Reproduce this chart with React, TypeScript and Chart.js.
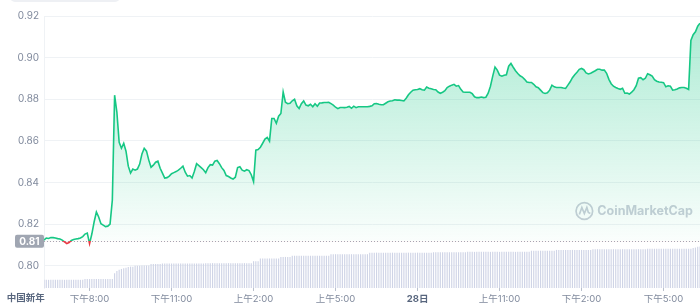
import React, { useEffect, useRef } from "react";
import { Chart, registerables } from "chart.js";

Chart.register(...registerables);

// ---------- data ----------
const START_MIN = 18 * 60 + 20; // 27th, 18:20 (minutes from midnight of the 27th)
const STEP_MIN = 5;
const SPAN_MIN = 24 * 60;
const BASE_PRICE = 0.8119;
const BASE_LABEL = "0.81";
const DAY_LABEL = "中国新年";
const DAY_LABEL_TIME = 17 * 60 + 40;

const prices = [
  0.8124, 0.8134, 0.8132, 0.8136, 0.8136, 0.8134, 0.8131, 0.8129, 0.8124, 0.8115, 0.8107, 0.8112,
  0.8122, 0.8127, 0.8129, 0.8131, 0.8134, 0.8141, 0.8153, 0.8158, 0.8107, 0.8153, 0.8211, 0.8259,
  0.8235, 0.8203, 0.8196, 0.8189, 0.8191, 0.8201, 0.8316, 0.882, 0.8738, 0.8594, 0.8565, 0.8589,
  0.8551, 0.8479, 0.8446, 0.8465, 0.846, 0.8465, 0.8489, 0.8537, 0.8565, 0.8551, 0.8508, 0.8474,
  0.8484, 0.8498, 0.8503, 0.8469, 0.8446, 0.8422, 0.8424, 0.8431, 0.8443, 0.8448, 0.8453, 0.846,
  0.8469, 0.8479, 0.845, 0.8431, 0.8434, 0.8422, 0.8453, 0.8491, 0.8482, 0.8472, 0.8462, 0.8448,
  0.8472, 0.8486, 0.8484, 0.8503, 0.8506, 0.8491, 0.8472, 0.8458, 0.8434, 0.8429, 0.8422, 0.8417,
  0.8426, 0.8472, 0.8476, 0.846, 0.8455, 0.8462, 0.8458, 0.8438, 0.8405, 0.8556, 0.8559, 0.857,
  0.8589, 0.8609, 0.8617, 0.8599, 0.8708, 0.8708, 0.8685, 0.8719, 0.8732, 0.8835, 0.8786, 0.8779,
  0.8781, 0.8793, 0.88, 0.8769, 0.8756, 0.8779, 0.8792, 0.8772, 0.8769, 0.8776, 0.8764, 0.8779,
  0.8767, 0.8782, 0.8783, 0.8785, 0.8785, 0.8786, 0.8779, 0.8772, 0.8762, 0.8755, 0.8761, 0.8761,
  0.876, 0.8762, 0.8766, 0.8757, 0.8767, 0.876, 0.8764, 0.8764, 0.8764, 0.8764, 0.8764, 0.8766,
  0.8769, 0.8779, 0.878, 0.8776, 0.8774, 0.8774, 0.8781, 0.8788, 0.8792, 0.8793, 0.8798, 0.8796,
  0.8796, 0.8794, 0.8792, 0.8805, 0.8822, 0.8834, 0.8844, 0.8846, 0.8847, 0.8851, 0.8846, 0.8844,
  0.8859, 0.8853, 0.8851, 0.8847, 0.8846, 0.8835, 0.8829, 0.8834, 0.8841, 0.8856, 0.8863, 0.8868,
  0.8872, 0.8863, 0.8866, 0.8848, 0.8835, 0.8834, 0.8834, 0.8834, 0.8827, 0.8812, 0.8808, 0.8808,
  0.8811, 0.8808, 0.881, 0.8829, 0.8863, 0.8911, 0.8955, 0.894, 0.8916, 0.8911, 0.8916, 0.8918,
  0.8959, 0.8972, 0.8954, 0.8937, 0.8924, 0.8913, 0.8907, 0.8896, 0.8883, 0.8881, 0.8881, 0.8872,
  0.886, 0.8856, 0.8844, 0.8832, 0.8828, 0.8831, 0.8844, 0.8868, 0.886, 0.8857, 0.8857, 0.8857,
  0.8854, 0.8852, 0.8868, 0.8884, 0.8904, 0.8918, 0.893, 0.8944, 0.8948, 0.8942, 0.8927, 0.8922,
  0.8925, 0.8931, 0.8937, 0.8944, 0.8944, 0.894, 0.894, 0.8925, 0.8896, 0.8875, 0.8863, 0.8857,
  0.8852, 0.8848, 0.8853, 0.8829, 0.883, 0.8825, 0.8834, 0.8846, 0.8865, 0.8901, 0.8904, 0.8894,
  0.8901, 0.8923, 0.8918, 0.8911, 0.8894, 0.8887, 0.8883, 0.8882, 0.888, 0.886, 0.8865, 0.8863,
  0.8844, 0.8846, 0.885, 0.8855, 0.8857, 0.8857, 0.8853, 0.8847, 0.9083, 0.911, 0.9124, 0.9151, 0.9165,
];

// volume (millions)
const volumes = [
  21, 21, 21, 21, 21, 21, 21, 21, 21, 21, 21, 21,
  21, 21, 21, 21, 21, 21, 23, 23, 23, 23, 23, 23,
  23, 23, 23, 23, 23, 23, 23, 38, 44, 47, 49, 51,
  52, 54, 55, 55, 57, 57, 57, 58, 58, 58, 58, 62,
  62, 62, 62, 62, 63, 63, 63, 63, 63, 63, 63, 63,
  63, 63, 63, 63, 63, 63, 63, 63, 63, 63, 63, 64,
  64, 64, 64, 64, 64, 64, 64, 64, 64, 64, 64, 64,
  64, 64, 64, 64, 64, 64, 64, 64, 69, 69, 69, 76,
  76, 76, 76, 76, 76, 76, 76, 76, 80, 80, 80, 80,
  80, 83, 83, 83, 83, 83, 83, 83, 83, 83, 83, 83,
  83, 83, 83, 83, 83, 83, 87, 87, 87, 87, 87, 87,
  87, 87, 87, 87, 87, 87, 87, 87, 87, 87, 87, 91,
  91, 91, 91, 91, 91, 91, 91, 91, 91, 91, 91, 91,
  91, 91, 91, 91, 91, 91, 91, 91, 91, 91, 91, 91,
  91, 91, 91, 92, 92, 92, 92, 92, 92, 92, 92, 92,
  92, 92, 92, 92, 92, 92, 93, 93, 93, 93, 93, 93,
  93, 93, 93, 93, 93, 93, 93, 93, 93, 93, 93, 93,
  93, 93, 93, 93, 93, 93, 93, 93, 93, 93, 96, 96,
  96, 96, 96, 96, 96, 96, 96, 96, 96, 98, 98, 98,
  98, 98, 98, 98, 98, 98, 98, 98, 98, 98, 98, 98,
  98, 100, 100, 100, 100, 100, 100, 100, 100, 100, 100, 100,
  100, 100, 100, 100, 100, 100, 100, 100, 100, 100, 100, 100,
  100, 101, 101, 101, 101, 101, 101, 101, 101, 101, 101, 101,
  101, 101, 101, 101, 101, 101, 101, 101, 101, 103, 104, 106, 107,
];

const tickTimes = [1200, 1380, 1560, 1740, 1920, 2100, 2280, 2460];
const tickLabels = ["下午8:00", "下午11:00", "上午2:00", "上午5:00", "28日", "上午11:00", "下午2:00", "下午5:00"];
const boldTickLabels = ["28日"];
const yTicks = [0.8, 0.82, 0.84, 0.86, 0.88, 0.9, 0.92];

const Y_MIN = 0.7894;
const Y_MAX = 0.92;
const VOL_MAX = 700;

// ---------- style ----------
const FONT = "Inter, 'Noto Sans CJK SC', sans-serif";
const GREEN = "#16c784";
const RED = "#ea3943";
const AXIS_GRAY = "#808a9d";
const DARK_GRAY = "#58667e";
const X_TICK_LEN = 3;
const X_TICK_PAD = 2;

const times = prices.map((_, i) => START_MIN + i * STEP_MIN);

const overlayPlugin = {
  id: "overlay",
  beforeDatasetsDraw(chart: any) {
    const { ctx, chartArea, scales } = chart;
    const yb = Math.round(scales.y.getPixelForValue(BASE_PRICE)) + 0.5;
    ctx.save();
    // dotted baseline
    ctx.strokeStyle = "#a3a9b5";
    ctx.lineWidth = 1;
    ctx.setLineDash([1, 2]);
    ctx.beginPath();
    ctx.moveTo(chartArea.left, yb);
    ctx.lineTo(chartArea.right, yb);
    ctx.stroke();
    ctx.setLineDash([]);

    // watermark
    const wmColor = "#c9ced8";
    const tx = chartArea.right - 7;
    const ty = chartArea.bottom - 77;
    ctx.font = `bold 12.5px ${FONT}`;
    ctx.fillStyle = wmColor;
    ctx.textAlign = "right";
    ctx.textBaseline = "middle";
    ctx.fillText("CoinMarketCap", tx, ty);
    const tw = ctx.measureText("CoinMarketCap").width;
    const cx = tx - tw - 13;
    ctx.strokeStyle = wmColor;
    ctx.lineWidth = 1.7;
    ctx.beginPath();
    ctx.arc(cx, ty, 8.3, 0, Math.PI * 2);
    ctx.stroke();
    ctx.beginPath();
    ctx.moveTo(cx - 5, ty + 3.5);
    ctx.lineTo(cx - 2.5, ty - 3.5);
    ctx.lineTo(cx, ty + 2.5);
    ctx.lineTo(cx + 2.5, ty - 3.5);
    ctx.lineTo(cx + 4, ty + 1.5);
    ctx.lineTo(cx + 6, ty + 2.5);
    ctx.stroke();
    ctx.restore();
  },
  afterDraw(chart: any) {
    const { ctx, chartArea, scales } = chart;
    ctx.save();
    // baseline value box
    const yb = scales.y.getPixelForValue(BASE_PRICE);
    const bw = 29;
    const bh = 13;
    const bx = chartArea.left - bw;
    ctx.fillStyle = "#a0a6b2";
    ctx.beginPath();
    (ctx as any).roundRect(bx, yb - bh / 2, bw, bh, 2);
    ctx.fill();
    ctx.fillStyle = "#ffffff";
    ctx.font = `bold 10px ${FONT}`;
    ctx.textAlign = "center";
    ctx.textBaseline = "middle";
    ctx.fillText(BASE_LABEL, bx + bw / 2, yb + 0.5);

    // day label left of first tick
    const dx = scales.x.getPixelForValue(DAY_LABEL_TIME);
    ctx.fillStyle = DARK_GRAY;
    ctx.font = `bold 9.5px ${FONT}`;
    ctx.textAlign = "center";
    ctx.textBaseline = "top";
    ctx.fillText(DAY_LABEL, dx, scales.x.top + X_TICK_LEN + X_TICK_PAD);

    // cropped button at top-left
    ctx.fillStyle = "#eef0f4";
    ctx.beginPath();
    (ctx as any).roundRect(10, -12, 110, 14, 5);
    ctx.fill();
    ctx.restore();
  },
};

export default function App() {
  const ref = useRef<HTMLCanvasElement | null>(null);

  useEffect(() => {
    if (!ref.current) return;
    const chart = new Chart(ref.current, {
      type: "line",
      data: {
        datasets: [
          {
            type: "line",
            data: prices.map((p, i) => ({ x: times[i], y: p })),
            yAxisID: "y",
            borderWidth: 1.6,
            pointRadius: 0,
            tension: 0,
            order: 0,
            fill: { value: BASE_PRICE } as any,
            borderColor: (c: any) => {
              const { chart: ch } = c;
              const { chartArea, scales } = ch;
              if (!chartArea) return GREEN;
              const yb = scales.y.getPixelForValue(BASE_PRICE);
              const g = ch.ctx.createLinearGradient(0, chartArea.top, 0, chartArea.bottom);
              const s = Math.min(1, Math.max(0, (yb - chartArea.top) / (chartArea.bottom - chartArea.top)));
              g.addColorStop(0, GREEN);
              g.addColorStop(s, GREEN);
              g.addColorStop(s, RED);
              g.addColorStop(1, RED);
              return g;
            },
            backgroundColor: (c: any) => {
              const { chart: ch } = c;
              const { chartArea, scales } = ch;
              if (!chartArea) return "rgba(22,199,132,0.2)";
              const yb = scales.y.getPixelForValue(BASE_PRICE);
              const g = ch.ctx.createLinearGradient(0, chartArea.top, 0, chartArea.bottom);
              const s = Math.min(1, Math.max(0, (yb - chartArea.top) / (chartArea.bottom - chartArea.top)));
              g.addColorStop(0, "rgba(22,199,132,0.36)");
              g.addColorStop(s, "rgba(22,199,132,0.02)");
              g.addColorStop(s, "rgba(234,57,67,0.15)");
              g.addColorStop(1, "rgba(234,57,67,0.05)");
              return g;
            },
          } as any,
          {
            type: "bar",
            data: volumes.map((v, i) => ({ x: times[i], y: v })),
            yAxisID: "y2",
            backgroundColor: "#cfd4e6",
            barPercentage: 0.5,
            categoryPercentage: 1,
            order: 1,
          } as any,
        ],
      },
      options: {
        animation: false,
        responsive: false,
        events: [],
        layout: { padding: { top: 16, left: 0, right: 0, bottom: 0 } },
        plugins: { legend: { display: false }, tooltip: { enabled: false } },
        scales: {
          x: {
            type: "linear",
            min: START_MIN,
            max: START_MIN + SPAN_MIN,
            offset: false,
            afterBuildTicks: (s: any) => {
              s.ticks = tickTimes.map((v) => ({ value: v }));
            },
            afterFit: (s: any) => {
              s.height = 15;
            },
            grid: {
              offset: false,
              drawOnChartArea: false,
              drawTicks: true,
              tickLength: X_TICK_LEN,
              color: "#b9c0cc",
            },
            border: { display: false },
            ticks: {
              autoSkip: false,
              maxRotation: 0,
              padding: X_TICK_PAD,
              callback: (_v: any, i: number) => tickLabels[i],
              color: (c: any) => (boldTickLabels.includes(tickLabels[c.index]) ? DARK_GRAY : AXIS_GRAY),
              font: (c: any) => ({
                family: FONT,
                size: 9.5,
                weight: boldTickLabels.includes(tickLabels[c.index]) ? "bold" : "normal",
              }),
            },
          },
          y: {
            type: "linear",
            position: "left",
            min: Y_MIN,
            max: Y_MAX,
            afterBuildTicks: (s: any) => {
              s.ticks = yTicks.map((v) => ({ value: v }));
            },
            afterFit: (s: any) => {
              s.width = 44;
            },
            grid: { color: "#eff2f5", drawTicks: false },
            border: { display: true, color: "#eff2f5" },
            ticks: {
              padding: 5,
              color: AXIS_GRAY,
              font: { family: FONT, size: 10 },
              callback: (v: any) => Number(v).toFixed(2),
            },
          },
          y2: {
            type: "linear",
            display: false,
            min: 0,
            max: VOL_MAX,
          },
        },
      } as any,
      plugins: [overlayPlugin],
    });
    return () => chart.destroy();
  }, []);

  return (
    <div style={{ position: "fixed", left: 0, top: 0, width: 700, height: 303, background: "#fff" }}>
      <canvas ref={ref} width={700} height={303} style={{ display: "block", width: 700, height: 303 }} />
    </div>
  );
}
